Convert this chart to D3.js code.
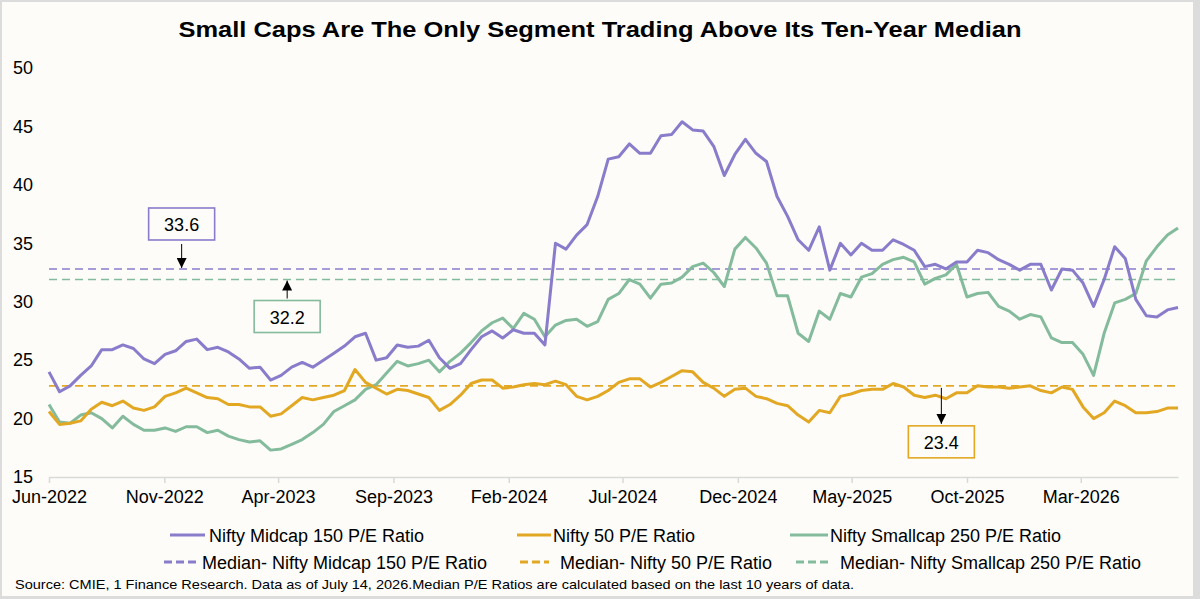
<!DOCTYPE html>
<html lang="en">
<head>
    <meta charset="UTF-8">
    <title>Small Caps vs Ten-Year Median</title>
    <script src="https://d3js.org/d3.v7.min.js"></script>
    <style>
        body { margin: 0; overflow: hidden; background-color: #ffffff; }
        svg { display: block; font-family: "Liberation Sans", Arial, sans-serif; }
    </style>
</head>
<body>
    <svg id="chart"></svg>

    <script>
        const width = 1200;
        const height = 599;

        // fortnightly readings, first one on 1 Jun 2022
        const startDate = new Date(2022, 5, 1);
        const stepDays = 14;

        const midcap = [24.0, 22.3, 22.8, 23.7, 24.5, 25.9, 25.9, 26.3, 26.0, 25.1,
            24.7, 25.5, 25.8, 26.6, 26.8, 25.9, 26.1, 25.7, 25.1, 24.3,
            24.4, 23.3, 23.7, 24.4, 24.8, 24.4, 25.0, 25.6, 26.2, 27.0,
            27.3, 25.0, 25.2, 26.3, 26.1, 26.2, 26.7, 25.2, 24.3, 24.7,
            25.9, 27.0, 27.5, 26.9, 27.6, 27.3, 27.3, 26.3, 35.0, 34.5,
            35.7, 36.6, 39.0, 42.2, 42.4, 43.5, 42.7, 42.7, 44.2, 44.3,
            45.4, 44.7, 44.6, 43.3, 40.8, 42.6, 43.9, 42.7, 42.0, 39.0,
            37.3, 35.3, 34.4, 36.4, 32.7, 35.0, 34.0, 35.0, 34.4, 34.4,
            35.3, 34.9, 34.4, 33.0, 33.2, 32.8, 33.4, 33.4, 34.4, 34.2,
            33.6, 33.2, 32.7, 33.2, 33.2, 31.0, 32.8, 32.7, 31.6, 29.6,
            31.9, 34.7, 33.7, 30.2, 28.8, 28.7, 29.3, 29.5];

        const nifty50 = [20.6, 19.5, 19.6, 19.8, 20.8, 21.4, 21.1, 21.5, 20.9, 20.7,
            21.0, 21.9, 22.2, 22.6, 22.2, 21.8, 21.7, 21.2, 21.2, 21.0,
            21.0, 20.2, 20.4, 21.1, 21.8, 21.6, 21.8, 22.0, 22.4, 24.2,
            23.1, 22.6, 22.1, 22.5, 22.4, 22.1, 21.8, 20.7, 21.2, 22.0,
            23.0, 23.3, 23.3, 22.6, 22.7, 22.9, 23.0, 22.9, 23.2, 22.9,
            21.9, 21.6, 21.9, 22.4, 23.1, 23.4, 23.4, 22.7, 23.1, 23.6,
            24.1, 24.0, 23.1, 22.6, 21.9, 22.5, 22.6, 21.9, 21.7, 21.3,
            21.1, 20.3, 19.7, 20.7, 20.5, 21.9, 22.1, 22.4, 22.5, 22.5,
            23.0, 22.7, 22.0, 21.8, 22.0, 21.7, 22.2, 22.2, 22.8, 22.7,
            22.7, 22.6, 22.7, 22.8, 22.4, 22.2, 22.7, 22.5, 21.0, 20.0,
            20.5, 21.5, 21.1, 20.5, 20.5, 20.6, 20.9, 20.9];

        const smallcap = [21.2, 19.7, 19.6, 20.3, 20.5, 20.0, 19.2, 20.2, 19.5, 19.0,
            19.0, 19.2, 18.9, 19.3, 19.3, 18.8, 19.0, 18.5, 18.2, 18.0,
            18.1, 17.3, 17.4, 17.8, 18.2, 18.8, 19.5, 20.6, 21.1, 21.6,
            22.5, 22.9, 23.9, 24.9, 24.5, 24.7, 25.0, 24.0, 24.9, 25.6,
            26.5, 27.5, 28.2, 28.6, 27.7, 29.0, 28.5, 27.0, 28.0, 28.4,
            28.5, 27.9, 28.3, 30.2, 30.7, 31.9, 31.5, 30.3, 31.5, 31.6,
            32.1, 33.0, 33.3, 32.5, 31.3, 34.5, 35.5, 34.6, 33.3, 30.5,
            30.5, 27.3, 26.6, 29.2, 28.5, 30.7, 30.4, 32.1, 32.4, 33.2,
            33.6, 33.8, 33.4, 31.5, 32.0, 32.3, 33.2, 30.4, 30.7, 30.8,
            29.6, 29.2, 28.5, 28.9, 28.7, 26.9, 26.5, 26.5, 25.5, 23.7,
            27.3, 29.9, 30.2, 30.7, 33.5, 34.7, 35.7, 36.3];

        // medians as drawn on the chart, and the values printed in the boxes
        const seriesNames = ["Nifty Midcap 150 P/E Ratio", "Nifty 50 P/E Ratio", "Nifty Smallcap 250 P/E Ratio"];
        const medianLines = [32.8, 22.8, 31.9];
        const medianLabels = ["33.6", "23.4", "32.2"];
        const colors = ["#897ccb", "#e2a824", "#84bb9c"];

        const tickDates = ["2022-06", "2022-11", "2023-04", "2023-09", "2024-02",
            "2024-07", "2024-12", "2025-05", "2025-10", "2026-03"];
        const yTicks = [15, 20, 25, 30, 35, 40, 45, 50];

        const dates = midcap.map((d, i) => d3.timeDay.offset(startDate, i * stepDays));
        const series = [midcap, nifty50, smallcap];

        const svg = d3.select("#chart")
            .attr("width", width)
            .attr("height", height);

        // frame and background
        svg.append("rect").attr("width", width).attr("height", height).attr("fill", "#dcdcdc");
        svg.append("rect").attr("x", 2).attr("y", 2).attr("width", 1191).attr("height", 594).attr("fill", "#fdfcf8");

        const x = d3.scaleTime()
            .domain([dates[0], dates[dates.length - 1]])
            .range([49, 1178]);

        const y = d3.scaleLinear()
            .domain([15, 50])
            .range([477, 68]);

        // title
        svg.append("text")
            .attr("x", 600)
            .attr("y", 37)
            .attr("text-anchor", "middle")
            .attr("font-size", 22.5)
            .attr("font-weight", "bold")
            .attr("textLength", 843)
            .attr("lengthAdjust", "spacingAndGlyphs")
            .attr("fill", "#000")
            .text("Small Caps Are The Only Segment Trading Above Its Ten-Year Median");

        // axes
        const parseMonth = d3.timeParse("%Y-%m");
        const xAxis = svg.append("g")
            .attr("transform", `translate(0,${y(15)})`)
            .call(d3.axisBottom(x)
                .tickValues(tickDates.map(parseMonth))
                .tickFormat(d3.timeFormat("%b-%Y"))
                .tickSizeInner(6)
                .tickSizeOuter(0)
                .tickPadding(7));
        xAxis.select(".domain").attr("stroke", "#d9d9d9").attr("stroke-width", 1.5);
        xAxis.selectAll(".tick line").attr("stroke", "#d9d9d9").attr("stroke-width", 1.5);
        xAxis.selectAll(".tick text")
            .attr("font-size", 18)
            .attr("font-family", "Liberation Sans, Arial, sans-serif")
            .attr("fill", "#000");

        const yAxis = svg.append("g")
            .attr("transform", "translate(49,0)")
            .call(d3.axisLeft(y).tickValues(yTicks).tickSize(0).tickPadding(16));
        yAxis.select(".domain").remove();
        yAxis.selectAll(".tick text")
            .attr("font-size", 18)
            .attr("font-family", "Liberation Sans, Arial, sans-serif")
            .attr("fill", "#000");

        // median lines
        svg.selectAll(".median")
            .data(medianLines)
            .enter()
            .append("line")
            .attr("class", "median")
            .attr("x1", x.range()[0])
            .attr("x2", x.range()[1])
            .attr("y1", d => y(d))
            .attr("y2", d => y(d))
            .attr("stroke", (d, i) => colors[i])
            .attr("stroke-width", 1.6)
            .attr("stroke-dasharray", "8,5");

        // series lines (smallcap first so midcap sits on top)
        const line = d3.line()
            .x((d, i) => x(dates[i]))
            .y(d => y(d));

        [2, 1, 0].forEach(k => {
            svg.append("path")
                .datum(series[k])
                .attr("d", line)
                .attr("fill", "none")
                .attr("stroke", colors[k])
                .attr("stroke-width", 3)
                .attr("stroke-linejoin", "round");
        });

        // annotations: box with median value + arrow to the median line
        svg.append("defs").append("marker")
            .attr("id", "arrow")
            .attr("viewBox", "0 0 10 10")
            .attr("refX", 10)
            .attr("refY", 5)
            .attr("markerWidth", 10)
            .attr("markerHeight", 10)
            .attr("markerUnits", "userSpaceOnUse")
            .attr("orient", "auto")
            .append("path")
            .attr("d", "M0,0 L10,5 L0,10 Z")
            .attr("fill", "#000");

        const annotations = [
            { k: 0, date: new Date(2022, 10, 24), boxTop: -61, arrowFrom: -25, arrowTo: -1 },
            { k: 2, date: new Date(2023, 3, 13), boxTop: 21, arrowFrom: 19, arrowTo: 1 },
            { k: 1, date: new Date(2025, 7, 28), boxTop: 40, arrowFrom: 2, arrowTo: 38 }
        ];

        annotations.forEach(a => {
            const cx = x(a.date);
            const ly = y(medianLines[a.k]);
            const bx = cx - 33;
            svg.append("rect")
                .attr("x", bx)
                .attr("y", ly + a.boxTop)
                .attr("width", 66)
                .attr("height", 32)
                .attr("fill", "#fdfcf8")
                .attr("stroke", colors[a.k])
                .attr("stroke-width", 1.6);
            svg.append("text")
                .attr("x", cx)
                .attr("y", ly + a.boxTop + 23)
                .attr("text-anchor", "middle")
                .attr("font-size", 18)
                .attr("fill", "#000")
                .text(medianLabels[a.k]);
            svg.append("line")
                .attr("x1", cx)
                .attr("x2", cx)
                .attr("y1", ly + a.arrowFrom)
                .attr("y2", ly + a.arrowTo)
                .attr("stroke", "#000")
                .attr("stroke-width", 1)
                .attr("marker-end", "url(#arrow)");
        });

        // legend
        const legendRows = [
            { y: 535, items: [[170, 205, 209], [517, 551, 553], [790, 828, 830]], dashed: false },
            { y: 562, items: [[164, 199, 202], [520, 549, 560], [796, 830, 840]], dashed: true }
        ];

        legendRows.forEach(row => {
            row.items.forEach((it, k) => {
                svg.append("line")
                    .attr("x1", it[0])
                    .attr("x2", it[1])
                    .attr("y1", row.y)
                    .attr("y2", row.y)
                    .attr("stroke", colors[k])
                    .attr("stroke-width", 3)
                    .attr("stroke-dasharray", row.dashed ? "8,4" : null);
                svg.append("text")
                    .attr("x", it[2])
                    .attr("y", row.y + 6.5)
                    .attr("font-size", 18)
                    .attr("fill", "#000")
                    .text((row.dashed ? "Median- " : "") + seriesNames[k]);
            });
        });

        // source note
        svg.append("text")
            .attr("x", 15)
            .attr("y", 589)
            .attr("font-size", 13.5)
            .attr("textLength", 839)
            .attr("lengthAdjust", "spacingAndGlyphs")
            .attr("fill", "#000")
            .text("Source: CMIE, 1 Finance Research. Data as of July 14, 2026.Median  P/E Ratios are calculated based on the last 10 years of data.");
    </script>
</body>
</html>
